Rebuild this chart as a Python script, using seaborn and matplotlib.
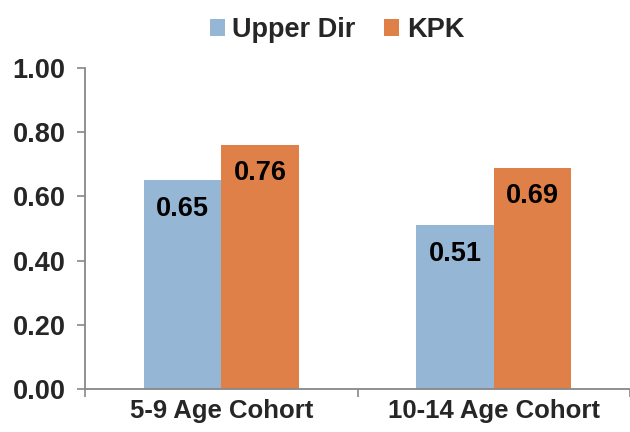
import matplotlib
matplotlib.use("Agg")
import matplotlib.pyplot as plt
import numpy as np
import pandas as pd
import seaborn as sns
from matplotlib.patches import Patch

cohorts = ["5-9 Age Cohort", "10-14 Age Cohort"]
groups = ["Upper Dir", "KPK"]
upper_dir = [0.65, 0.51]
kpk = [0.76, 0.69]
yticks = [0.0, 0.2, 0.4, 0.6, 0.8, 1.0]

colors = {"Upper Dir": "#95B6D5", "KPK": "#DF8048"}

df = pd.DataFrame({
    "cohort": cohorts * 2,
    "group": [groups[0]] * 2 + [groups[1]] * 2,
    "value": upper_dir + kpk,
})

sns.set_style("white")
plt.rcParams["font.family"] = ["Liberation Sans", "DejaVu Sans"]
plt.rcParams["font.weight"] = "bold"

FS = 19.5

fig = plt.figure(figsize=(6.3, 4.32), dpi=100)
ax = fig.add_axes([85 / 630, 43 / 432, 545 / 630, 321 / 432])

sns.barplot(data=df, x="cohort", y="value", hue="group", order=cohorts,
            hue_order=groups, palette=colors, width=0.57, gap=0,
            saturation=1, legend=False, ax=ax, edgecolor="none")

for container in ax.containers:
    for bar in container:
        h = bar.get_height()
        ax.text(bar.get_x() + bar.get_width() / 2, h - 0.088, f"{h:.2f}",
                ha="center", va="center", fontsize=FS, fontweight="bold",
                color="black")

ax.set_xlim(-0.5, 1.49)
ax.set_ylim(0, 1.0)
ax.set_yticks(yticks)
ax.set_yticklabels([f"{v:.2f}" for v in yticks], fontsize=FS, fontweight="bold")
ax.set_xticks([0, 1])
ax.set_xticklabels(cohorts, fontsize=18.5, fontweight="bold")
ax.set_xticks([-0.5, 0.5, 1.5], minor=True)
ax.tick_params(axis="x", which="major", bottom=True, length=0, pad=7)
ax.tick_params(axis="x", which="minor", bottom=True, length=6, width=1.2,
               color="#888888", direction="out")
ax.tick_params(axis="y", left=True, length=6, width=1.2, color="#888888",
               direction="out", pad=8)
ax.set_xlabel("")
ax.set_ylabel("")

for side in ["top", "right"]:
    ax.spines[side].set_visible(False)
for side in ["left", "bottom"]:
    ax.spines[side].set_color("#888888")
    ax.spines[side].set_linewidth(1.3)

handles = [Patch(facecolor=colors[g], edgecolor="none") for g in groups]
fig.legend(handles, groups, loc="center", bbox_to_anchor=(337 / 630, 1 - 30 / 432),
           ncol=2, frameon=False, handlelength=0.55, handleheight=0.55,
           handletextpad=0.28, columnspacing=1.05, prop={"weight": "bold", "size": FS})

fig.savefig("out.png", dpi=100)
